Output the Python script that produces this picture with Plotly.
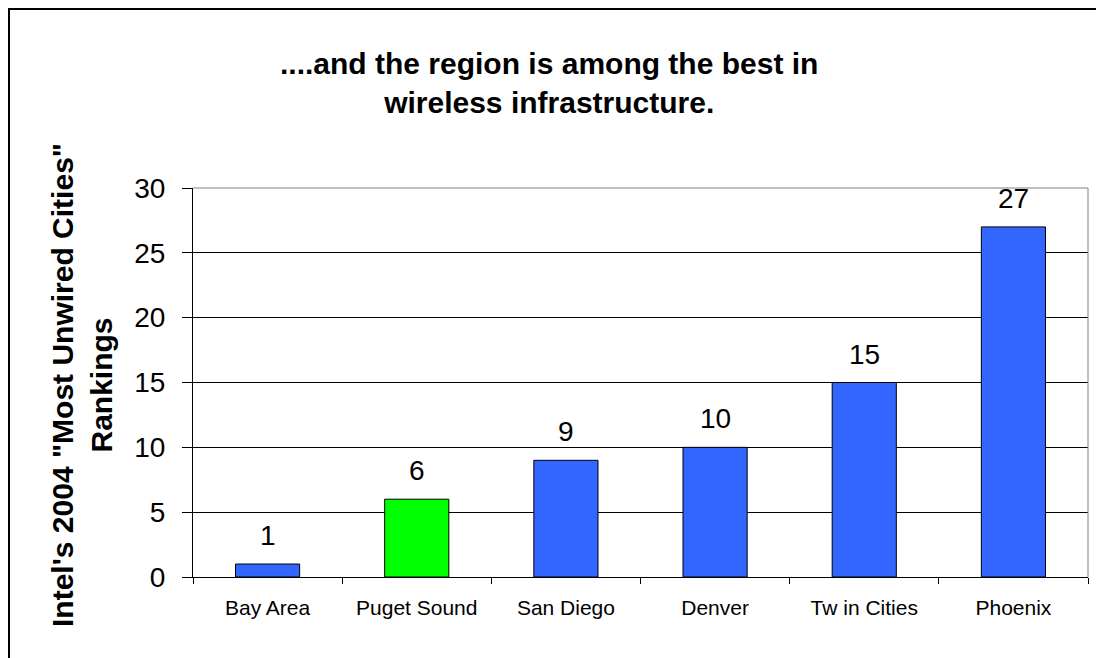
import plotly.graph_objects as go

categories = ["Bay Area", "Puget Sound", "San Diego", "Denver", "Tw in Cities", "Phoenix"]
rankings = [1, 6, 9, 10, 15, 27]
bar_colors = ["#3366FF", "#00FF00", "#3366FF", "#3366FF", "#3366FF", "#3366FF"]
y_ticks = [0, 5, 10, 15, 20, 25, 30]

OFF = 8  # browser body margin
W, H = 1104 - OFF, 658 - OFF
L, R, T, B = 193 - OFF, 16, 188 - OFF, 81
pw, ph = W - L - R, H - T - B
FONT = "Liberation Sans, Arial"

def px_x(p):
    return (p - OFF - L) / pw

def px_y(p):
    return (H - B - (p - OFF)) / ph

fig = go.Figure()
fig.add_trace(go.Bar(
    x=categories, y=rankings,
    marker=dict(color=bar_colors, line=dict(color="black", width=1)),
    hoverinfo="skip",
))

for c, v in zip(categories, rankings):
    fig.add_annotation(x=c, y=v, text=str(v), showarrow=False, yanchor="bottom",
                       yshift=11, font=dict(family=FONT, size=28, color="black"))

# outer frame (top + left visible)
fig.add_shape(type="rect", xref="paper", yref="paper",
              x0=px_x(9), x1=px_x(1130), y0=px_y(680), y1=px_y(9),
              line=dict(color="black", width=2), layer="above")
# gray top and right border of plot area
fig.add_shape(type="line", xref="paper", yref="paper", x0=0, x1=1, y0=1, y1=1,
              line=dict(color="#808080", width=1))
fig.add_shape(type="line", xref="paper", yref="paper", x0=1, x1=1, y0=0, y1=1,
              line=dict(color="#808080", width=1))

fig.add_annotation(xref="paper", yref="paper", x=px_x(549), y=px_y(83), yanchor="middle",
                   text="<b>....and the region is among the best in<br>wireless infrastructure.</b>",
                   showarrow=False, font=dict(family=FONT, size=30, color="black"))

fig.add_annotation(xref="paper", yref="paper", x=px_x(82), y=px_y(385), textangle=-90,
                   xanchor="center", yanchor="middle",
                   text="<b>Intel's 2004 \"Most Unwired Cities\"<br>Rankings</b>",
                   showarrow=False, font=dict(family=FONT, size=30, color="black"))

fig.update_layout(
    width=W, height=H,
    margin=dict(l=L, r=R, t=T, b=B),
    paper_bgcolor="white", plot_bgcolor="white",
    showlegend=False,
    bargap=0.57,
    font=dict(family=FONT, color="black"),
    xaxis=dict(
        type="category", showline=True, linecolor="black", linewidth=1,
        ticks="outside", tickson="boundaries", ticklen=6, tickcolor="black",
        tickfont=dict(size=21), showgrid=False, ticklabelstandoff=12,
    ),
    yaxis=dict(
        range=[0, 30], tickvals=y_ticks, showline=True, linecolor="black", linewidth=1,
        ticks="outside", ticklen=10, tickcolor="black", tickfont=dict(size=28),
        showgrid=True, gridcolor="black", gridwidth=1, zeroline=False,
        ticklabelstandoff=11,
    ),
)

fig.write_html("out.html")
